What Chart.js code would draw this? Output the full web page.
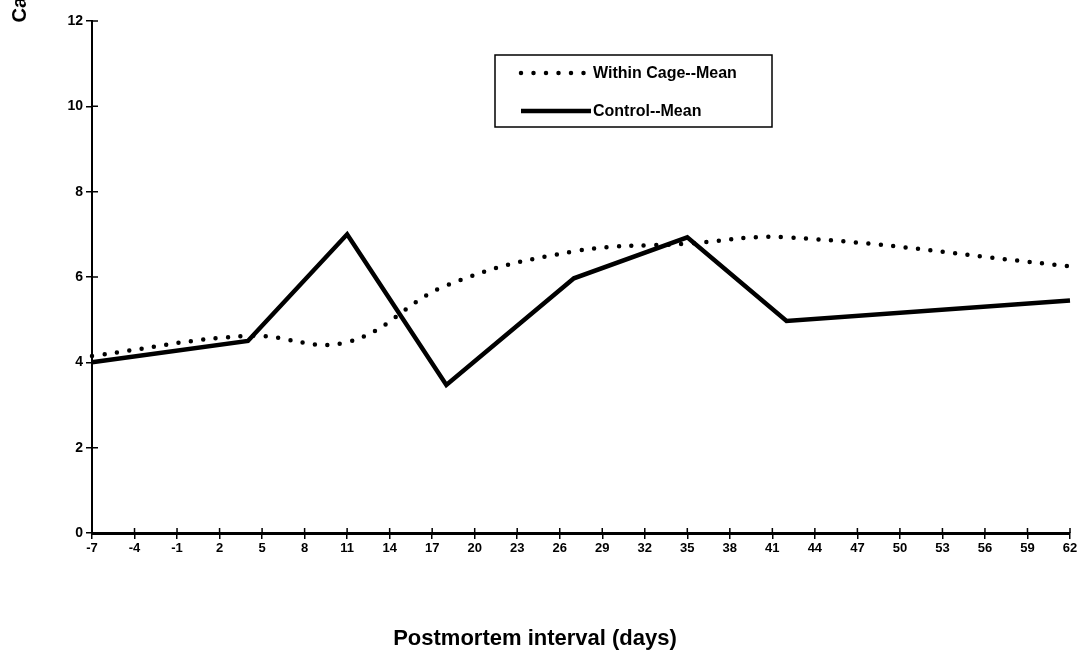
<!DOCTYPE html>
<html>
<head>
<meta charset="utf-8">
<script src="https://cdn.jsdelivr.net/npm/chart.js@4.4.0/dist/chart.umd.min.js"></script>
<style>
  html, body { margin: 0; padding: 0; background: #fff; }
</style>
</head>
<body>
<canvas id="chart" width="1084" height="658"></canvas>
<script>
// values
const days = [-7, 4, 11, 18, 27, 35, 42, 62];
const withinCageMean = [4.15, 4.62, 4.47, 5.8, 6.6, 6.78, 6.93, 6.25];
const controlMean = [4.0, 4.5, 7.0, 3.47, 5.97, 6.93, 4.97, 5.45];
const xTicks = [-7, -4, -1, 2, 5, 8, 11, 14, 17, 20, 23, 26, 29, 32, 35, 38, 41, 44, 47, 50, 53, 56, 59, 62];
const yTicks = [0, 2, 4, 6, 8, 10, 12];

const FONT = 'Liberation Sans, Arial, sans-serif';

// the y title is cut off at the top edge in the original scan
const yTitle = {
  id: 'yTitle',
  afterDraw(chart, args, opts) {
    const ctx = chart.ctx;
    ctx.save();
    ctx.translate(opts.x, opts.y);
    ctx.rotate(-Math.PI / 2);
    ctx.font = `bold ${opts.size}px ${FONT}`;
    ctx.fillStyle = '#000';
    ctx.textAlign = 'right';
    ctx.textBaseline = 'middle';
    ctx.fillText(opts.text, 0, 0);
    ctx.restore();
  }
};

// small crossing ticks: Chart.js only draws them outward, add the inward half
const crossTicks = {
  id: 'crossTicks',
  afterDraw(chart) {
    const ctx = chart.ctx;
    const { x, y } = chart.scales;
    const area = chart.chartArea;
    ctx.save();
    ctx.strokeStyle = '#000';
    ctx.lineWidth = 1.5;
    ctx.beginPath();
    x.ticks.forEach(t => {
      const px = x.getPixelForValue(t.value);
      ctx.moveTo(px, area.bottom);
      ctx.lineTo(px, area.bottom - 5);
    });
    y.ticks.forEach(t => {
      const py = y.getPixelForValue(t.value);
      ctx.moveTo(area.left, py);
      ctx.lineTo(area.left + 6, py);
    });
    ctx.stroke();
    ctx.restore();
  }
};

// boxed legend sitting inside the plot
const boxLegend = {
  id: 'boxLegend',
  afterDraw(chart, args, opts) {
    const ctx = chart.ctx;
    ctx.save();
    ctx.strokeStyle = '#000';
    ctx.lineWidth = 1.5;
    ctx.strokeRect(opts.x, opts.y, opts.w, opts.h);
    ctx.font = `bold ${opts.size}px ${FONT}`;
    ctx.fillStyle = '#000';
    ctx.textBaseline = 'middle';
    chart.data.datasets.forEach((ds, i) => {
      const ly = opts.y + opts.first + i * opts.gap;
      ctx.beginPath();
      ctx.setLineDash(ds.borderDash || []);
      ctx.lineCap = ds.borderCapStyle || 'butt';
      ctx.lineWidth = ds.borderWidth;
      ctx.strokeStyle = ds.borderColor;
      ctx.moveTo(opts.x + opts.lineStart, ly);
      ctx.lineTo(opts.x + opts.lineEnd, ly);
      ctx.stroke();
      ctx.setLineDash([]);
      ctx.fillText(ds.label, opts.x + opts.lineEnd + 2, ly + 1);
    });
    ctx.restore();
  }
};

new Chart(document.getElementById('chart'), {
  type: 'line',
  data: {
    datasets: [{
      label: 'Within Cage--Mean',
      data: days.map((d, i) => ({ x: d, y: withinCageMean[i] })),
      borderColor: '#000',
      borderWidth: 4.5,
      borderDash: [0, 12.5],
      borderCapStyle: 'round',
      tension: 0.4,
      pointRadius: 0,
      clip: false,
    }, {
      label: 'Control--Mean',
      data: days.map((d, i) => ({ x: d, y: controlMean[i] })),
      borderColor: '#000',
      borderWidth: 4.5,
      borderJoinStyle: 'miter',
      tension: 0,
      pointRadius: 0,
      clip: false,
    }]
  },
  plugins: [yTitle, crossTicks, boxLegend],
  options: {
    responsive: false,
    devicePixelRatio: 1,
    animation: false,
    layout: { padding: { left: 0, right: 14, top: 21, bottom: 0 } },
    plugins: {
      legend: { display: false },
      tooltip: { enabled: false },
      title: {
        display: true,
        position: 'bottom',
        text: 'Postmortem interval (days)',
        color: '#000',
        font: { family: FONT, size: 22, weight: 'bold' },
        padding: { top: 0, bottom: 6 },
      },
      yTitle: { text: 'Ca', x: 20, y: -3, size: 20 },
      boxLegend: { x: 495, y: 55, w: 277, h: 72, first: 18, gap: 38, lineStart: 26, lineEnd: 96, size: 16 },
    },
    scales: {
      x: {
        type: 'linear',
        min: -7,
        max: 62,
        afterBuildTicks: s => { s.ticks = xTicks.map(v => ({ value: v })); },
        afterFit: s => { s.height = 125 - 32.4; },
        grid: { drawOnChartArea: false, drawTicks: true, tickLength: 6, color: '#000', lineWidth: 1.5 },
        border: { display: true, color: '#000', width: 3 },
        ticks: {
          color: '#000',
          font: { family: FONT, size: 13, weight: 'bold' },
          padding: 2,
          maxRotation: 0,
          autoSkip: false,
        }
      },
      y: {
        min: 0,
        max: 12,
        afterBuildTicks: s => { s.ticks = yTicks.map(v => ({ value: v })); },
        afterFit: s => { s.width = 92; },
        grid: { drawOnChartArea: false, drawTicks: true, tickLength: 6, color: '#000', lineWidth: 1.5 },
        border: { display: true, color: '#000', width: 2 },
        ticks: {
          color: '#000',
          font: { family: FONT, size: 14, weight: 'bold' },
          padding: 3,
        }
      }
    }
  }
});
</script>
</body>
</html>
